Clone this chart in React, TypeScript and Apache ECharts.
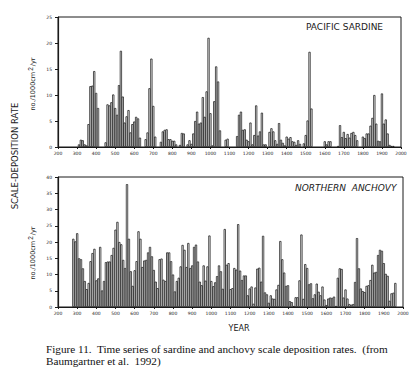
import React, { useEffect, useRef } from "react";
import * as echarts from "echarts";

const sardineYears = [310, 320, 330, 340, 350, 360, 370, 380, 390, 400, 410, 450, 460, 470, 480, 490, 500, 510, 520, 530, 540, 550, 560, 570, 580, 590, 600, 610, 620, 630, 660, 670, 680, 690, 700, 710, 740, 750, 760, 770, 780, 790, 800, 810, 820, 840, 850, 860, 880, 890, 900, 910, 920, 930, 940, 950, 960, 970, 980, 990, 1000, 1010, 1020, 1030, 1040, 1050, 1080, 1090, 1140, 1150, 1160, 1170, 1180, 1190, 1200, 1210, 1220, 1230, 1240, 1250, 1260, 1270, 1280, 1290, 1310, 1320, 1330, 1340, 1350, 1360, 1370, 1380, 1390, 1400, 1410, 1420, 1430, 1440, 1450, 1460, 1470, 1490, 1500, 1510, 1520, 1530, 1600, 1610, 1620, 1630, 1670, 1680, 1690, 1700, 1710, 1720, 1730, 1740, 1750, 1760, 1770, 1800, 1810, 1820, 1830, 1840, 1850, 1860, 1870, 1880, 1890, 1900, 1910, 1920, 1930, 1940, 1950, 1960];
const sardineRates = [0.5, 1.4, 1.3, 0.5, 0.3, 4.4, 11.7, 11.8, 14.6, 10.4, 7.5, 0.9, 8.2, 8.0, 8.6, 10.1, 7.5, 6.2, 11.9, 18.5, 9.7, 4.7, 5.9, 7.1, 2.8, 4.4, 4.9, 5.8, 5.5, 1.8, 1.5, 2.8, 11.3, 17.0, 7.9, 2.0, 1.0, 3.0, 3.3, 3.4, 1.5, 1.5, 1.2, 1.2, 0.5, 0.4, 2.7, 2.6, 0.5, 1.3, 0.6, 2.6, 5.0, 6.8, 4.5, 4.7, 9.6, 5.8, 10.7, 21.0, 6.5, 0.3, 8.8, 15.5, 12.6, 3.2, 1.4, 1.6, 2.1, 6.2, 6.8, 3.3, 3.4, 1.4, 1.1, 4.7, 0.5, 2.3, 8.0, 2.2, 3.0, 6.6, 0.5, 0.5, 2.9, 3.6, 3.0, 1.3, 0.6, 4.6, 1.4, 0.8, 0.3, 2.0, 1.6, 1.9, 1.1, 1.0, 0.4, 1.3, 0.6, 0.7, 2.3, 5.1, 18.3, 7.4, 1.1, 0.5, 1.1, 1.1, 0.2, 4.2, 1.9, 2.9, 1.7, 2.5, 1.8, 2.7, 2.9, 2.3, 1.3, 2.0, 1.7, 2.6, 2.6, 4.1, 5.6, 10.0, 4.5, 1.2, 1.1, 10.3, 4.5, 5.3, 2.6, 0.4, 0.2, 0.2];

const anchovyFirstYear = 280;
const anchovyRates = [
  21.0, 20.2, 22.7, 15.0, 14.7, 11.9, 8.0, 5.5, 7.4, 14.1,
  16.6, 17.9, 8.2, 8.8, 18.5, 5.1, 8.0, 13.8, 14.0, 14.0,
  16.0, 18.2, 23.8, 26.2, 20.0, 19.3, 14.5, 12.0, 37.8, 21.0,
  11.0, 6.5, 11.3, 14.1, 23.3, 21.0, 12.3, 14.3, 14.5, 16.8,
  18.5, 15.6, 11.4, 7.8, 5.8, 14.7, 14.9, 8.4, 8.0, 16.8,
  16.8, 14.1, 10.0, 4.8, 8.0, 9.0, 12.5, 19.1, 17.6, 12.3,
  19.7, 12.0, 12.8, 18.5, 19.2, 14.0, 7.8, 6.7, 12.8, 8.1,
  12.5, 22.0, 8.0, 6.4, 7.6, 9.5, 12.8, 11.0, 5.6, 24.0,
  13.0, 13.5, 5.5, 5.8, 12.0, 11.5, 25.5, 11.2, 8.3, 9.7,
  9.7, 3.6, 5.7, 6.3, 1.0, 6.0, 11.8, 12.1, 7.8, 21.9,
  4.5, 3.9, 1.3, 3.6, 2.6, 2.5, 5.4, 6.8, 20.3, 14.7,
  10.6, 6.5, 6.7, 1.8, 1.5, 0.3, 3.0, 3.0, 8.2, 22.3,
  2.5, 13.2, 12.0, 7.0, 7.3, 2.7, 3.9, 7.2, 4.7, 3.6,
  6.3, 2.3, 0.6, 2.6, 2.9, 2.8, 3.2, 0.3, 9.0, 11.9,
  11.7, 2.9, 5.4, 2.6, 0.9, 0.7, 0.9, 7.7, 21.2, 11.9,
  5.7, 4.9, 4.6, 6.5, 6.7, 8.3, 13.0, 10.6, 10.8, 16.0,
  17.6, 17.3, 13.5, 10.2, 9.6, 1.9, 4.2, 4.4, 7.4,
];
const binWidthYears = 10;

export default function App() {
  const ref = useRef<HTMLDivElement>(null);
  useEffect(() => {
    if (!ref.current) return;
    const chart = echarts.init(ref.current, null, { renderer: "svg" });
    const sardineData = sardineYears.map((y, i) => [y, sardineRates[i]]);
    const anchovyData = anchovyRates.map((v, i) => [anchovyFirstYear + i * binWidthYears, v]);

    const ink = "#1a1a1a";
    const plain = (v: number) => String(v);
    const xAxisBase = (gridIndex: number) => ({
      type: "value" as const,
      gridIndex,
      min: 200,
      max: 2000,
      interval: 100,
      axisLine: { show: true, lineStyle: { color: ink, width: 1.2 } },
      axisTick: { show: true, inside: false, length: 2, lineStyle: { color: ink, width: 1 } },
      axisLabel: { show: true, fontSize: 4.5, color: ink, margin: 4, fontFamily: "DejaVu Sans", formatter: plain },
      splitLine: { show: false },
    });
    const yAxisBase = (gridIndex: number, max: number) => ({
      type: "value" as const,
      gridIndex,
      min: 0,
      max,
      interval: 5,
      axisLine: { show: true, lineStyle: { color: ink, width: 1.2 } },
      axisTick: { show: true, inside: false, length: 3, lineStyle: { color: ink, width: 1 } },
      axisLabel: { show: true, fontSize: 4.5, color: ink, margin: 6, fontFamily: "DejaVu Sans", formatter: plain },
      splitLine: { show: false },
    });
    const barStyle = { color: "#f4f4f4", borderColor: ink, borderWidth: 0.75 };

    chart.setOption({
      animation: false,
      backgroundColor: "#ffffff",
      grid: [
        { left: 58, right: 16, top: 17, bottom: 226, show: true, borderColor: ink, borderWidth: 1, backgroundColor: "transparent" },
        { left: 58, right: 14, top: 177, bottom: 66, show: true, borderColor: ink, borderWidth: 1, backgroundColor: "transparent" },
      ],
      xAxis: [xAxisBase(0), xAxisBase(1)],
      yAxis: [yAxisBase(0, 25), yAxisBase(1, 40)],
      series: [
        { type: "bar", xAxisIndex: 0, yAxisIndex: 0, data: sardineData, barWidth: 2.2, itemStyle: barStyle },
        { type: "bar", xAxisIndex: 1, yAxisIndex: 1, data: anchovyData, barWidth: 2.2, itemStyle: barStyle },
      ],
      graphic: [
        { type: "text", left: 306, top: 22, style: { text: "PACIFIC SARDINE", fontSize: 9, fill: ink, fontFamily: "DejaVu Sans" } },
        { type: "text", left: 295, top: 183, style: { text: "NORTHERN  ANCHOVY", fontSize: 9, fill: ink, fontFamily: "DejaVu Sans", fontStyle: "italic" } },
        {
          type: "text", x: 15, y: 156, rotation: Math.PI / 2,
          style: { text: "SCALE-DEPOSITION RATE", fontSize: 8.5, fill: ink, fontFamily: "DejaVu Sans", align: "center", verticalAlign: "middle" },
        },
        {
          type: "text", x: 33, y: 84, rotation: Math.PI / 2,
          style: {
            text: "no./1000cm{s|2}/yr",
            fontSize: 6.5, fill: ink, fontFamily: "DejaVu Sans", align: "center", verticalAlign: "middle",
            rich: { s: { fontSize: 6.5, verticalAlign: "top", padding: [0, 1, 5, 1], fill: ink } },
          },
        },
        {
          type: "text", x: 33, y: 253, rotation: Math.PI / 2,
          style: {
            text: "no./1000cm{s|2}/yr",
            fontSize: 6.5, fill: ink, fontFamily: "DejaVu Sans", align: "center", verticalAlign: "middle",
            rich: { s: { fontSize: 6.5, verticalAlign: "top", padding: [0, 1, 5, 1], fill: ink } },
          },
        },
        { type: "text", x: 239, y: 328, style: { text: "YEAR", fontSize: 8, fill: ink, fontFamily: "DejaVu Sans", align: "center", verticalAlign: "middle" } },
        {
          type: "text", x: 46, y: 343,
          style: {
            text: "Figure 11.  Time series of sardine and anchovy scale deposition rates.  (from\nBaumgartner et al.  1992)",
            fontSize: 11.2, lineHeight: 12, fill: "#111", fontFamily: "Liberation Serif",
          },
        },
      ],
    });
    return () => chart.dispose();
  }, []);
  return (
    <div
      ref={ref}
      style={{ position: "fixed", left: 0, top: 0, width: 417, height: 373, background: "#fff" }}
    />
  );
}
